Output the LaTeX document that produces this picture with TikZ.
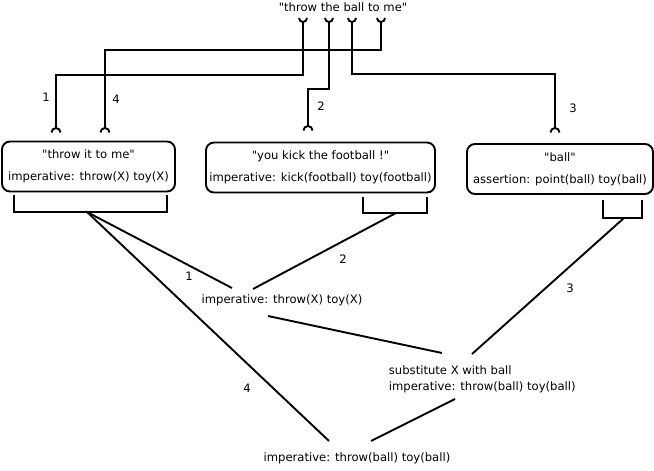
\documentclass[tikz,border=0pt]{standalone}
\usepackage{fontspec}
\setmainfont{DejaVu Sans}[Ligatures=TeXOff]
\begin{document}
\begin{tikzpicture}[x=1pt,y=-1pt,line width=1.9pt,
  txt/.style={font=\fontsize{11.6}{14}\selectfont,inner sep=0pt},
  boxnode/.style={draw,rounded corners=8pt,align=center,inner sep=0pt,
    font=\fontsize{11.6}{22}\selectfont},
  cup/.style={line width=1.9pt},
]
\useasboundingbox (0,0) rectangle (654,471);
% top sentence
\node[txt] (top) at (343,7) {"throw the ball to me"};
% boxes
\node[boxnode,minimum width=173pt,minimum height=50pt] (box1) at (88.5,166.5)
  {"throw it to me"\\imperative: throw(X) toy(X)};
\node[boxnode,minimum width=229pt,minimum height=50pt] (box2) at (320.5,167.5)
  {"you kick the football !"\\imperative: kick(football) toy(football)};
\node[boxnode,minimum width=186pt,minimum height=50pt] (box3) at (560,169)
  {"ball"\\assertion: point(ball) toy(ball)};
% coordinates for top connectors
\coordinate (t1) at (303,22);
\coordinate (t2) at (329,22);
\coordinate (t3) at (352,22);
\coordinate (t4) at (381,22);
\coordinate (e1) at (56,128);
\coordinate (e2) at (308,126);
\coordinate (e3) at (555,128);
\coordinate (e4) at (105,128);
% cups at the top
\foreach \c in {t1,t2,t3,t4}{
  \draw[cup] ([xshift=-4pt,yshift=4pt]\c) arc[start angle=180,end angle=360,radius=4pt];
}
% caps at the bottom
\foreach \c in {e1,e2,e3,e4}{
  \draw[cup] ([xshift=-4.5pt,yshift=-4.5pt]\c) arc[start angle=180,end angle=0,radius=4.5pt];
}
% connectors from the sentence to the boxes
\draw (t1) -- (303,75) -| (e1);
\draw (t2) -- (329,89) -| (e2);
\draw (t3) -- (352,74) -| (e3);
\draw (t4) -- (381,50) -| (e4);
\node[txt] (l1) at (46,97) {1};
\node[txt] (l4) at (116,99) {4};
\node[txt] (l2) at (321,106) {2};
\node[txt] (l3) at (573,108) {3};
% brackets under the boxes
\draw (14,195) -- (14,212) -- (167,212) -- (167,195);
\draw (363,197) -- (363,213) -- (427,213) -- (427,197);
\draw (603,200) -- (603,218) -- (642,218) -- (642,200);
\coordinate (b1) at (87,212);
\coordinate (b2) at (396,213);
\coordinate (b3) at (624,218);
% middle and lower nodes
\node[txt] (mid) at (282,300) {imperative: throw(X) toy(X)};
\node[txt,align=left,anchor=north west,font=\fontsize{11.6}{16}\selectfont] (sub) at (388,365)
  {substitute X with ball\\imperative: throw(ball) toy(ball)};
\node[txt] (bot) at (357,458) {imperative: throw(ball) toy(ball)};
% derivation lines
\coordinate (m1) at (232,288);
\coordinate (m2) at (253,289);
\coordinate (m3) at (268,316);
\coordinate (s1) at (442,353);
\coordinate (s2) at (472,354);
\coordinate (s3) at (455,399);
\coordinate (f1) at (329,441);
\coordinate (f2) at (371,441);
\draw (b1) -- (m1);
\draw (b2) -- (m2);
\draw (m3) -- (s1);
\draw (b3) -- (s2);
\draw (b1) -- (f1);
\draw (s3) -- (f2);
\node[txt] (d1) at (189,276) {1};
\node[txt] (d2) at (343,259) {2};
\node[txt] (d3) at (570,288) {3};
\node[txt] (d4) at (247,388) {4};
\end{tikzpicture}
\end{document}
